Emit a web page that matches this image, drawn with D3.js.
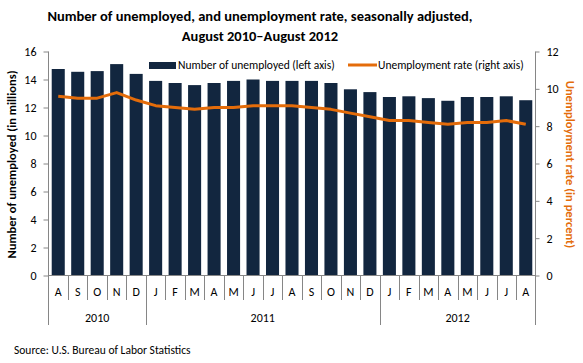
<!DOCTYPE html>
<html>
<head>
<meta charset="utf-8">
<script src="https://cdn.jsdelivr.net/npm/d3@7"></script>
<style>
  body { margin: 0; background: #fff; }
  svg { font-family: Carlito, Calibri, Lato, "Liberation Sans", sans-serif; }
</style>
</head>
<body>
<svg id="chart" width="583" height="363"></svg>
<script>
const months = ['A','S','O','N','D','J','F','M','A','M','J','J','A','S','O','N','D','J','F','M','A','M','J','J','A'];
const years = [
  { label: '2010', start: 0, end: 5 },
  { label: '2011', start: 5, end: 17 },
  { label: '2012', start: 17, end: 25 }
];
const unemployed = [14.75, 14.55, 14.6, 15.1, 14.4, 13.9, 13.75, 13.6, 13.75, 13.9, 14.0, 13.9, 13.9,
  13.9, 13.75, 13.3, 13.1, 12.75, 12.8, 12.67, 12.48, 12.75, 12.75, 12.8, 12.52];
const rate = [9.6, 9.5, 9.5, 9.8, 9.4, 9.1, 9.0, 8.9, 9.0, 9.0, 9.1, 9.1, 9.1,
  9.0, 8.9, 8.7, 8.5, 8.3, 8.3, 8.2, 8.1, 8.2, 8.2, 8.3, 8.1];
const leftTicks = [0, 2, 4, 6, 8, 10, 12, 14, 16];
const rightTicks = [0, 2, 4, 6, 8, 10, 12];

const svg = d3.select('#chart');
const plotL = 48.5, plotR = 535.5, plotT = 51.5, plotB = 275.5;
const axisColor = '#868686';
const barColor = '#12263f';
const lineColor = '#e46c0a';

const idx = d3.range(months.length);
const x = d3.scaleBand().domain(idx).range([plotL, plotR]).paddingInner(0.33).paddingOuter(0.165);
const yL = d3.scaleLinear().domain([0, 16]).range([plotB, plotT]);
const yR = d3.scaleLinear().domain([0, 12]).range([plotB, plotT]);

// title
svg.append('text')
  .attr('x', 260).attr('y', 21)
  .attr('text-anchor', 'middle')
  .attr('font-size', 14.5).attr('font-weight', 'bold')
  .text('Number of unemployed, and unemployment rate, seasonally adjusted,');
svg.append('text')
  .attr('x', 260).attr('y', 41)
  .attr('text-anchor', 'middle')
  .attr('font-size', 14.5).attr('font-weight', 'bold')
  .text('August 2010\u2013August 2012');

// bars
svg.append('g')
  .selectAll('rect')
  .data(unemployed)
  .join('rect')
  .attr('x', (d, i) => x(i))
  .attr('width', x.bandwidth())
  .attr('y', d => yL(d))
  .attr('height', d => yL(0) - yL(d))
  .attr('fill', barColor);

// rate line
const line = d3.line()
  .x((d, i) => x(i) + x.bandwidth() / 2)
  .y(d => yR(d));
svg.append('path')
  .datum(rate)
  .attr('d', line)
  .attr('fill', 'none')
  .attr('stroke', lineColor)
  .attr('stroke-width', 3)
  .attr('stroke-linejoin', 'round');

// left axis
const gL = svg.append('g')
  .attr('transform', `translate(${plotL},0)`)
  .call(d3.axisLeft(yL).tickValues(leftTicks).tickSize(5).tickPadding(7));
gL.select('.domain').remove();
gL.selectAll('line').attr('stroke', axisColor);
gL.selectAll('text').attr('font-size', 12).attr('fill', '#000');
gL.attr('font-family', null);

// right axis
const gR = svg.append('g')
  .attr('transform', `translate(${plotR},0)`)
  .call(d3.axisRight(yR).tickValues(rightTicks).tickSize(4).tickPadding(7));
gR.select('.domain').remove();
gR.selectAll('line').attr('stroke', axisColor);
gR.selectAll('text').attr('font-size', 12).attr('fill', '#000');
gR.attr('font-family', null);

// axis lines (extend down through the category area)
svg.append('line').attr('x1', plotL).attr('x2', plotL).attr('y1', plotT).attr('y2', 325)
  .attr('stroke', axisColor);
svg.append('line').attr('x1', plotR).attr('x2', plotR).attr('y1', plotT).attr('y2', 325)
  .attr('stroke', axisColor);
svg.append('line').attr('x1', plotL).attr('x2', plotR).attr('y1', plotB).attr('y2', plotB)
  .attr('stroke', axisColor);

// month separators and labels
const colW = (plotR - plotL) / months.length;
svg.append('g')
  .selectAll('line')
  .data(d3.range(1, months.length))
  .join('line')
  .attr('x1', i => Math.round(plotL + i * colW) + 0.5)
  .attr('x2', i => Math.round(plotL + i * colW) + 0.5)
  .attr('y1', plotB)
  .attr('y2', i => years.some(y => y.start === i) ? 325 : 300)
  .attr('stroke', axisColor);

svg.append('g')
  .selectAll('text')
  .data(months)
  .join('text')
  .attr('x', (d, i) => x(i) + x.bandwidth() / 2)
  .attr('y', 296)
  .attr('text-anchor', 'middle')
  .attr('font-size', 12)
  .text(d => d);

svg.append('g')
  .selectAll('text')
  .data(years)
  .join('text')
  .attr('x', d => plotL + (d.start + d.end) / 2 * colW)
  .attr('y', 322)
  .attr('text-anchor', 'middle')
  .attr('font-size', 12)
  .text(d => d.label);

// axis titles
svg.append('text')
  .attr('transform', `translate(16,${(plotT + plotB) / 2 + 1}) rotate(-90)`)
  .attr('text-anchor', 'middle')
  .attr('font-size', 12.5).attr('font-weight', 'bold')
  .text('Number of unemployed (in millions)');
svg.append('text')
  .attr('transform', `translate(566,${(plotT + plotB) / 2 + 1}) rotate(90)`)
  .attr('text-anchor', 'middle')
  .attr('font-size', 12.5).attr('font-weight', 'bold')
  .attr('fill', lineColor)
  .text('Unemployment rate (in percent)');

// legend
const lg = svg.append('g');
lg.append('rect').attr('x', 149).attr('y', 62).attr('width', 27).attr('height', 7).attr('fill', barColor);
lg.append('text').attr('x', 178).attr('y', 69).attr('font-size', 11.5).text('Number of unemployed (left axis)');
lg.append('line').attr('x1', 348).attr('x2', 377).attr('y1', 65).attr('y2', 65)
  .attr('stroke', lineColor).attr('stroke-width', 3);
lg.append('text').attr('x', 378).attr('y', 69).attr('font-size', 11.5).text('Unemployment rate (right axis)');

// source
svg.append('text')
  .attr('x', 14).attr('y', 354)
  .attr('font-size', 11.5)
  .text('Source: U.S. Bureau of Labor Statistics');
</script>
</body>
</html>
